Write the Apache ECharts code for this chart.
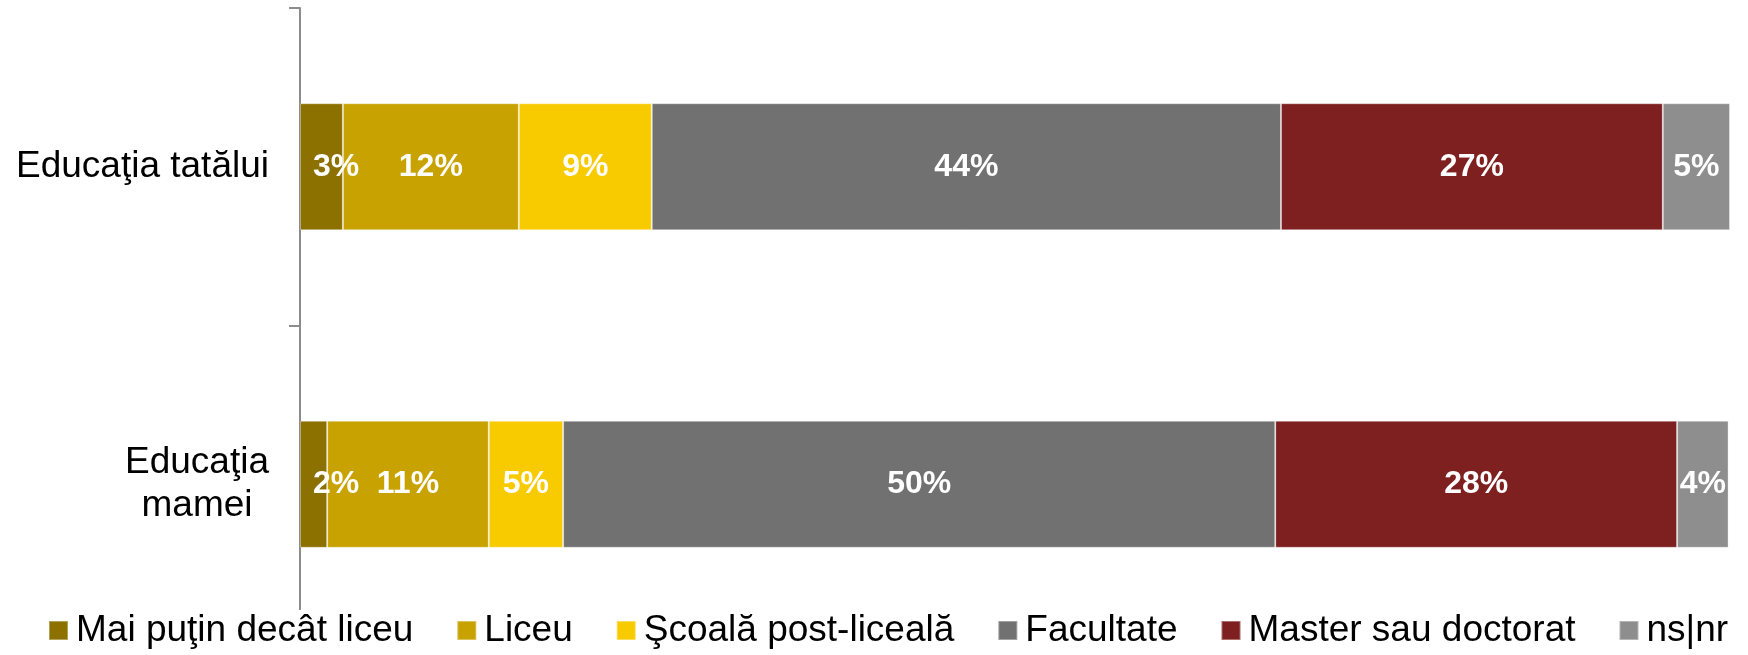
<!DOCTYPE html>
<html>
<head>
<meta charset="utf-8">
<script src="https://cdn.jsdelivr.net/npm/echarts@6/dist/echarts.min.js"></script>
<style>
html,body{margin:0;padding:0;background:#fff;}
#chart{width:1748px;height:655px;}
</style>
</head>
<body>
<div id="chart"></div>
<script>
// Data
var categories = ['Educaţia tatălui', 'Educaţia\nmamei'];
var seriesNames = ['Mai puţin decât liceu', 'Liceu', 'Şcoală post-liceală', 'Facultate', 'Master sau doctorat', 'ns|nr'];
var lessThanHighSchool = [3.0, 1.9];
var highSchool = [12.3, 11.3];
var postHighSchool = [9.3, 5.2];
var college = [44.0, 49.8];
var masterOrPhd = [26.7, 28.1];
var dontKnow = [4.7, 3.6];

var seriesValues = [lessThanHighSchool, highSchool, postHighSchool, college, masterOrPhd, dontKnow];
var colors = ['#8c7000', '#c8a200', '#f8cb00', '#717171', '#7e1f20', '#8e8e8e'];

var FONT = "'Liberation Sans', Arial, sans-serif";

var series = seriesNames.map(function (name, i) {
  var label = {
    show: true,
    position: 'inside',
    color: '#fff',
    fontFamily: FONT,
    fontWeight: 'bold',
    fontSize: 32,
    formatter: function (p) { return Math.round(p.value) + '%'; }
  };
  if (i === 0) { label.position = 'insideLeft'; label.distance = 13; }
  return {
    name: name,
    type: 'bar',
    stack: 'total',
    barWidth: '40%',
    data: seriesValues[i],
    itemStyle: { color: colors[i], borderColor: 'rgba(255,255,255,0.35)', borderWidth: 1 },
    label: label,
    labelLayout: { hideOverlap: false },
    emphasis: { disabled: true }
  };
});

var chart = echarts.init(document.getElementById('chart'), null, { renderer: 'canvas' });
chart.setOption({
  animation: false,
  color: colors,
  grid: { left: 300, right: 18, top: 8, bottom: 12, containLabel: false },
  xAxis: {
    type: 'value', min: 0, max: 100, show: false
  },
  yAxis: {
    type: 'category',
    inverse: true,
    data: categories,
    axisLine: { show: true, lineStyle: { color: '#8c8c8c', width: 2 } },
    axisTick: { show: true, length: 11, lineStyle: { color: '#8c8c8c', width: 2 } },
    axisLabel: {
      margin: 31,
      align: 'right',
      color: '#000',
      fontFamily: FONT,
      fontSize: 37,
      lineHeight: 43,
      formatter: function (v) {
        return v.split('\n').map(function (s) { return '{c|' + s + '}'; }).join('\n');
      },
      rich: { c: { align: 'center', fontSize: 37, lineHeight: 43, fontFamily: FONT, color: '#000' } }
    },
    splitLine: { show: false }
  },
  legend: {
    data: seriesNames,
    left: 44,
    bottom: 0,
    backgroundColor: '#fff',
    padding: [2, 4, 6, 4],
    itemWidth: 19,
    itemHeight: 19,
    itemGap: 43,
    icon: 'rect',
    textStyle: { color: '#000', fontFamily: FONT, fontSize: 37, padding: [0, 0, 0, 3] }
  },
  series: series
});
</script>
</body>
</html>
